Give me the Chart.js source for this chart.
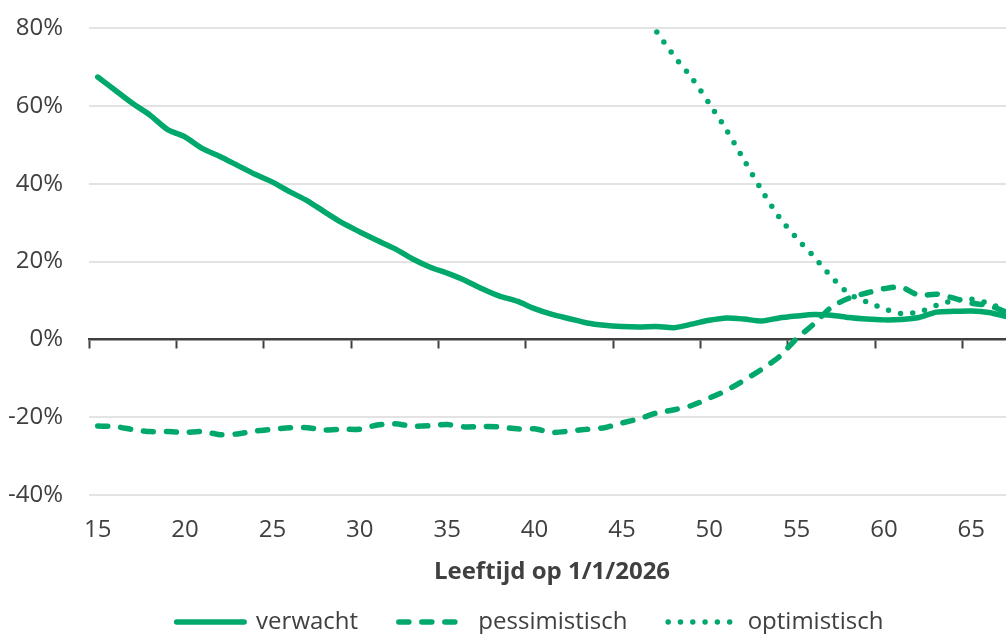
<!DOCTYPE html>
<html><head><meta charset="utf-8">
<script src="https://cdn.jsdelivr.net/npm/chart.js@4.4.1/dist/chart.umd.min.js"></script>
<style>
html,body{margin:0;padding:0;overflow:hidden;background:#fff;width:1006px;height:634px}
#wrap{position:absolute;left:0;top:0;width:1060px;height:644px}
</style></head><body>
<div id="wrap"><canvas id="c" width="1060" height="644"></canvas></div>
<script>
const ages = [15,16,17,18,19,20,21,22,23,24,25,26,27,28,29,30,31,32,33,34,35,36,37,38,39,40,41,42,43,44,45,46,47,48,49,50,51,52,53,54,55,56,57,58,59,60,61,62,63,64,65,66,67];
const verwacht = [67.4,64.0,60.6,57.6,53.9,52.0,49.0,47.0,44.7,42.4,40.4,37.9,35.6,32.7,29.9,27.6,25.4,23.3,20.7,18.6,17.0,15.2,13.0,11.1,9.8,7.9,6.4,5.3,4.2,3.6,3.3,3.2,3.3,3.0,3.9,4.9,5.5,5.2,4.7,5.5,6.0,6.4,6.2,5.6,5.2,5.0,5.1,5.6,7.0,7.2,7.3,6.9,5.9];
const pessimistisch = [-22.3,-22.4,-23.2,-23.7,-23.7,-23.9,-23.7,-24.5,-24.3,-23.6,-23.1,-22.7,-22.7,-23.3,-23.1,-23.1,-22.0,-21.7,-22.3,-22.2,-21.9,-22.5,-22.4,-22.5,-23.0,-23.0,-23.9,-23.6,-23.1,-22.7,-21.5,-20.4,-18.9,-18.1,-17.0,-15.1,-13.1,-10.5,-7.7,-4.5,0.2,4.0,8.3,10.6,11.9,13.0,13.4,11.3,11.6,10.6,9.3,8.7,7.0];
const optimistisch = [null,null,null,null,null,null,null,null,null,null,null,null,null,null,null,null,null,null,null,null,null,null,null,null,null,null,null,null,null,null,null,null,79.0,72.7,67.2,60.6,53.7,46.0,38.3,31.4,26.0,21.2,16.0,11.7,9.6,7.9,6.6,7.0,8.7,10.0,10.3,9.2,7.5];
const xLabelTicks = [15,20,25,30,35,40,45,50,55,60,65];
const xTickMarks = [14.5,19.5,24.5,29.5,34.5,39.5,44.5,49.5,54.5,59.5,64.5];
const yTicks = [-40,-20,0,20,40,60,80];
const seriesNames = ['verwacht','pessimistisch','optimistisch'];

const GREEN = '#00a86b';
const TXT = '#404040';
const FONT = "'Open Sans', 'Noto Sans', sans-serif";
const pts = arr => ages.map((a,i) => ({x:a, y:arr[i]}));

const common = {borderColor: GREEN, backgroundColor: GREEN, borderWidth: 5.5, pointRadius: 0, pointHoverRadius: 0, tension: 0.25, borderCapStyle: 'round', borderJoinStyle: 'round', fill: false, xAxisID: 'x', yAxisID: 'y', spanGaps: false};

new Chart(document.getElementById('c'), {
  type: 'line',
  data: {
    datasets: [
      Object.assign({}, common, {label: seriesNames[0], data: pts(verwacht)}),
      Object.assign({}, common, {label: seriesNames[1], data: pts(pessimistisch), borderDash: [10, 13]}),
      Object.assign({}, common, {label: seriesNames[2], data: pts(optimistisch), borderDash: [0, 12.3]})
    ]
  },
  options: {
    responsive: false,
    animation: false,
    devicePixelRatio: 1,
    layout: {padding: {left: 0, right: 0, top: 28, bottom: 0}},
    plugins: {
      tooltip: {enabled: false},
      legend: {
        position: 'bottom',
        labels: {
          usePointStyle: true, pointStyle: 'line', pointStyleWidth: 67.5,
          font: {family: FONT, size: 24}, color: TXT, padding: 40.75,
          generateLabels: chart => {
            const items = Chart.defaults.plugins.legend.labels.generateLabels(chart);
            items.forEach((it, i) => {
              const ds = chart.data.datasets[i];
              it.lineDash = ds.borderDash || [];
              it.lineWidth = ds.borderWidth;
              it.lineCap = 'round';
              it.strokeStyle = ds.borderColor;
              it.pointStyle = 'line';
            });
            return items;
          }
        }
      }
    },
    scales: {
      x: {
        type: 'linear', axis: 'x', min: 14.5, max: 67.5,
        position: {y: 0},
        afterBuildTicks: s => { s.ticks = xTickMarks.map(v => ({value: v})); },
        ticks: {display: false},
        grid: {display: true, drawOnChartArea: false, drawTicks: true, tickLength: 8, tickWidth: 2, tickColor: '#404040'},
        border: {display: true, color: '#404040', width: 2.5}
      },
      xl: {
        type: 'linear', axis: 'x', min: 14.5, max: 67.5, position: 'bottom',
        afterBuildTicks: s => { s.ticks = xLabelTicks.map(v => ({value: v})); },
        afterFit: s => { s.height = 74.25; },
        ticks: {font: {family: FONT, size: 24}, color: TXT, padding: 20.6, maxRotation: 0, autoSkip: false},
        grid: {display: false, drawTicks: false},
        border: {display: false},
        title: {display: true, text: 'Leeftijd op 1/1/2026', color: TXT, font: {family: FONT, size: 24, weight: 'bold'}, padding: {top: 0, bottom: -17}}
      },
      y: {
        type: 'linear', min: -40, max: 80,
        afterBuildTicks: s => { s.ticks = yTicks.map(v => ({value: v})); },
        afterFit: s => { s.width = 89; s.paddingTop = 0; s.paddingBottom = 0; },
        ticks: {font: {family: FONT, size: 24}, color: TXT, padding: 26, callback: v => v + '%'},
        grid: {color: '#e3e3e3', lineWidth: 2, drawTicks: false},
        border: {display: false}
      },
      yr: {
        type: 'linear', position: 'right', display: true,
        afterFit: s => { s.width = 45; s.paddingTop = 0; s.paddingBottom = 0; },
        ticks: {display: false},
        grid: {display: false, drawTicks: false},
        border: {display: false}
      }
    }
  }
});
</script>
</body></html>
